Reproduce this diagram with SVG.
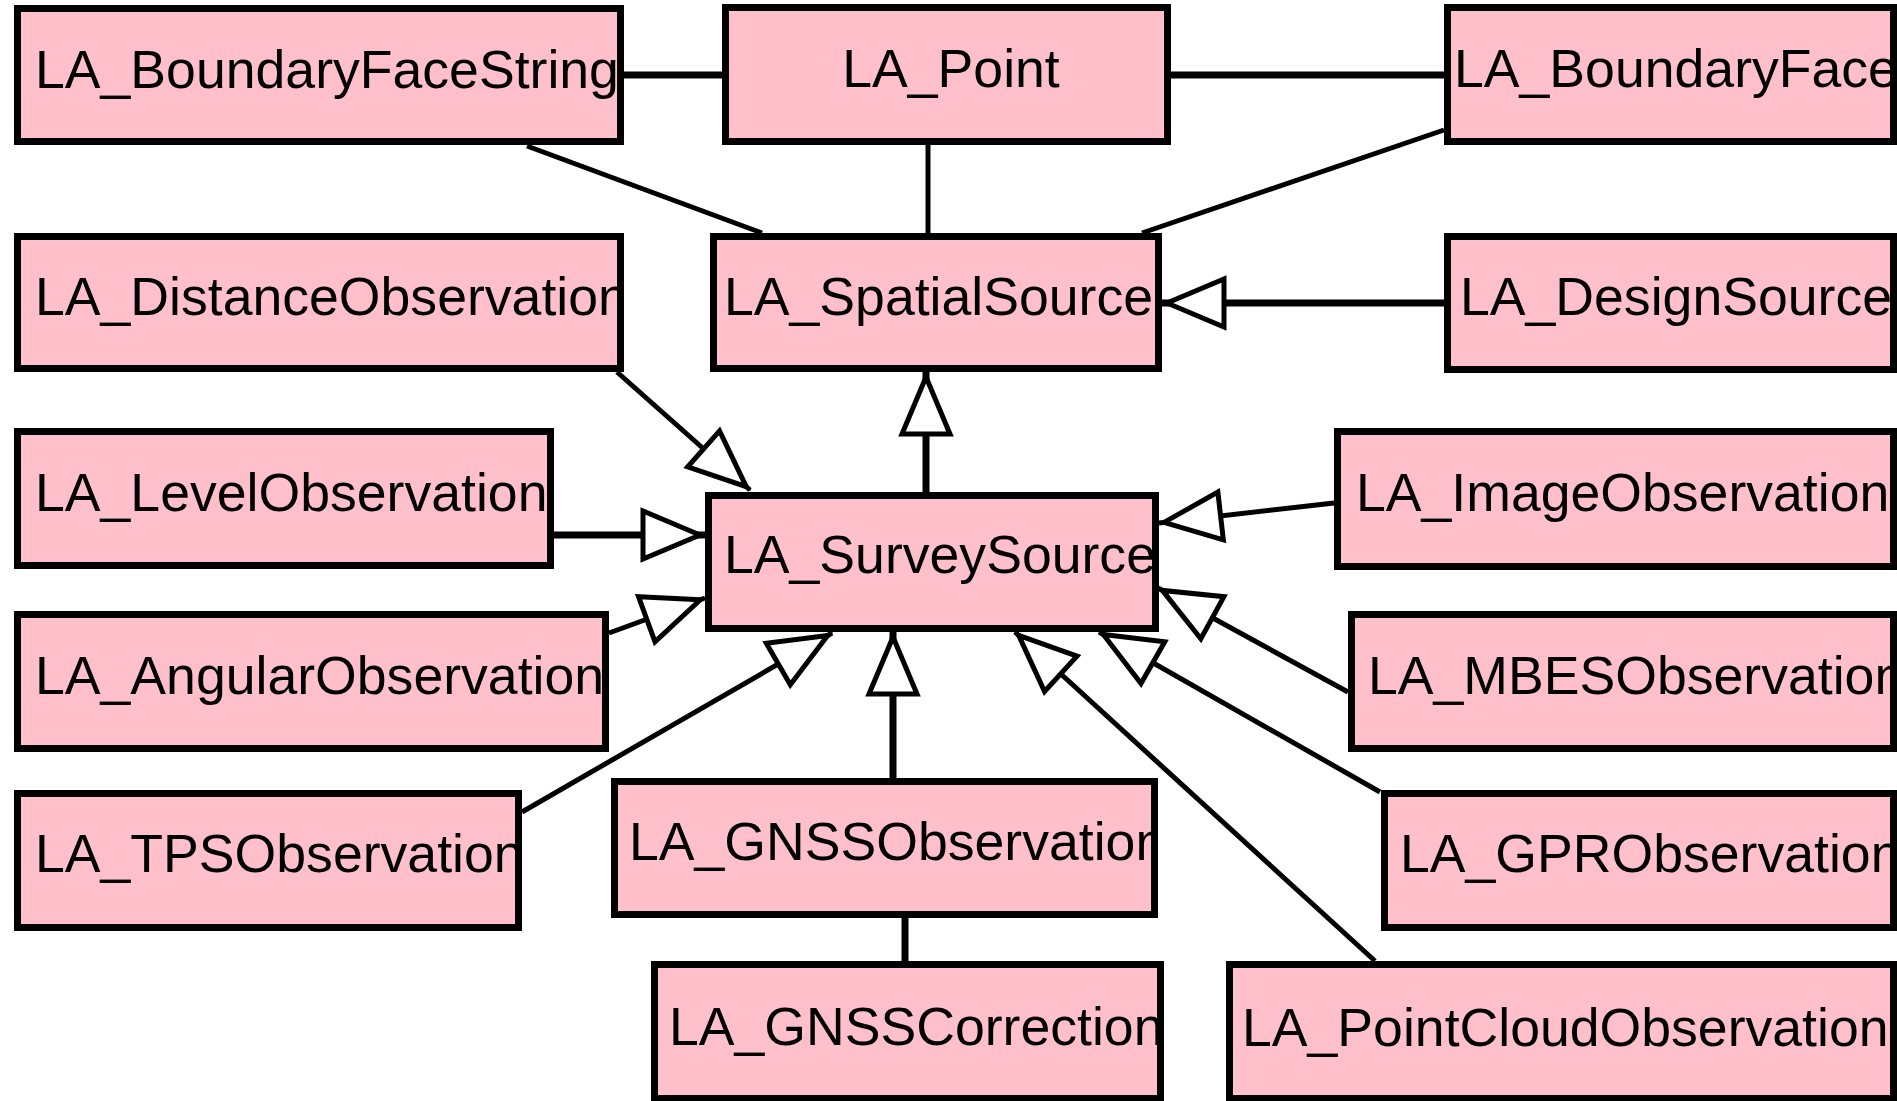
<svg xmlns="http://www.w3.org/2000/svg" width="1897" height="1101" viewBox="0 0 1897 1101">
<style>
.box{fill:#FFC0CB;stroke:#000;stroke-width:7}
.lbl{font-family:"Liberation Sans",Arial,sans-serif;font-size:53.6px;fill:#000}
.thick{stroke:#000;stroke-width:7;fill:none}
.thin{stroke:#000;stroke-width:5;fill:none}
.gen{marker-end:url(#tri)}
</style>
<defs>
<marker id="tri" viewBox="-70 -32 76 64" refX="0" refY="0" markerWidth="76" markerHeight="64" markerUnits="userSpaceOnUse" orient="auto">
<path d="M-5,0 L-62,-24 L-62,24 Z" fill="#fff" stroke="#000" stroke-width="5"/>
</marker>
<clipPath id="c1"><rect x="21" y="12" width="596" height="126"/></clipPath>
<clipPath id="c2"><rect x="729" y="11" width="435" height="127"/></clipPath>
<clipPath id="c3"><rect x="1451" y="11" width="439" height="127"/></clipPath>
<clipPath id="c4"><rect x="21" y="240" width="596" height="125"/></clipPath>
<clipPath id="c5"><rect x="717" y="240" width="438" height="125"/></clipPath>
<clipPath id="c6"><rect x="1451" y="240" width="439" height="126"/></clipPath>
<clipPath id="c7"><rect x="21" y="435" width="526" height="127"/></clipPath>
<clipPath id="c8"><rect x="712" y="499" width="440" height="126"/></clipPath>
<clipPath id="c9"><rect x="1341" y="435" width="549" height="128"/></clipPath>
<clipPath id="c10"><rect x="21" y="618" width="581" height="127"/></clipPath>
<clipPath id="c11"><rect x="1355" y="618" width="535" height="127"/></clipPath>
<clipPath id="c12"><rect x="21" y="797" width="494" height="127"/></clipPath>
<clipPath id="c13"><rect x="618" y="785" width="533" height="126"/></clipPath>
<clipPath id="c14"><rect x="1388" y="797" width="502" height="127"/></clipPath>
<clipPath id="c15"><rect x="658" y="968" width="499" height="127"/></clipPath>
<clipPath id="c16"><rect x="1233" y="968" width="657" height="127"/></clipPath>
</defs>

<g id="connectors">
<line class="thick" x1="624" y1="75" x2="722" y2="75"/>
<line class="thick" x1="1171" y1="75" x2="1444" y2="75"/>
<line class="thin" x1="928" y1="145" x2="928" y2="233"/>
<line class="thin" x1="527" y1="146" x2="762" y2="233"/>
<line class="thin" x1="1444" y1="130" x2="1142" y2="233"/>
<line class="thick gen" x1="1444" y1="303" x2="1162" y2="303"/>
<line class="thick gen" x1="926" y1="492" x2="926" y2="372"/>
<line class="thin gen" x1="617" y1="372" x2="750" y2="490"/>
<line class="thick gen" x1="554" y1="535" x2="705" y2="535"/>
<line class="thin gen" x1="609" y1="633" x2="705" y2="598"/>
<line class="thin gen" x1="522" y1="812" x2="832" y2="633"/>
<line class="thick gen" x1="893" y1="778" x2="893" y2="632"/>
<line class="thick" x1="905" y1="918" x2="905" y2="961"/>
<line class="thin gen" x1="1375" y1="961" x2="1015" y2="632"/>
<line class="thin gen" x1="1380" y1="792" x2="1099" y2="632"/>
<line class="thin gen" x1="1348" y1="692" x2="1158" y2="588"/>
<line class="thin gen" x1="1334" y1="503" x2="1159" y2="523"/>
</g>

<g id="LA_BoundaryFaceString"><rect class="box" x="17.5" y="8.5" width="603" height="133"/><text class="lbl" clip-path="url(#c1)" x="35" y="88">LA_BoundaryFaceString</text></g>
<g id="LA_Point"><rect class="box" x="725.5" y="7.5" width="442" height="134"/><text class="lbl" clip-path="url(#c2)" x="951" y="87" text-anchor="middle">LA_Point</text></g>
<g id="LA_BoundaryFace"><rect class="box" x="1447.5" y="7.5" width="446" height="134"/><text class="lbl" clip-path="url(#c3)" x="1454" y="87">LA_BoundaryFace</text></g>
<g id="LA_DistanceObservation"><rect class="box" x="17.5" y="236.5" width="603" height="132"/><text class="lbl" clip-path="url(#c4)" x="35" y="315">LA_DistanceObservation</text></g>
<g id="LA_SpatialSource"><rect class="box" x="713.5" y="236.5" width="445" height="132"/><text class="lbl" clip-path="url(#c5)" x="724" y="315">LA_SpatialSource</text></g>
<g id="LA_DesignSource"><rect class="box" x="1447.5" y="236.5" width="446" height="133"/><text class="lbl" clip-path="url(#c6)" x="1460" y="315">LA_DesignSource</text></g>
<g id="LA_LevelObservation"><rect class="box" x="17.5" y="431.5" width="533" height="134"/><text class="lbl" clip-path="url(#c7)" x="35" y="511">LA_LevelObservation</text></g>
<g id="LA_SurveySource"><rect class="box" x="708.5" y="495.5" width="447" height="133"/><text class="lbl" clip-path="url(#c8)" x="724" y="573">LA_SurveySource</text></g>
<g id="LA_ImageObservation"><rect class="box" x="1337.5" y="431.5" width="556" height="135"/><text class="lbl" clip-path="url(#c9)" x="1356" y="511">LA_ImageObservation</text></g>
<g id="LA_AngularObservation"><rect class="box" x="17.5" y="614.5" width="588" height="134"/><text class="lbl" clip-path="url(#c10)" x="35" y="694">LA_AngularObservation</text></g>
<g id="LA_MBESObservation"><rect class="box" x="1351.5" y="614.5" width="542" height="134"/><text class="lbl" clip-path="url(#c11)" x="1368" y="694">LA_MBESObservation</text></g>
<g id="LA_TPSObservation"><rect class="box" x="17.5" y="793.5" width="501" height="134"/><text class="lbl" clip-path="url(#c12)" x="35" y="872">LA_TPSObservation</text></g>
<g id="LA_GNSSObservation"><rect class="box" x="614.5" y="781.5" width="540" height="133"/><text class="lbl" clip-path="url(#c13)" x="629" y="860">LA_GNSSObservation</text></g>
<g id="LA_GPRObservation"><rect class="box" x="1384.5" y="793.5" width="509" height="134"/><text class="lbl" clip-path="url(#c14)" x="1400" y="872">LA_GPRObservation</text></g>
<g id="LA_GNSSCorrection"><rect class="box" x="654.5" y="964.5" width="506" height="134"/><text class="lbl" clip-path="url(#c15)" x="669" y="1045">LA_GNSSCorrection</text></g>
<g id="LA_PointCloudObservation"><rect class="box" x="1229.5" y="964.5" width="664" height="134"/><text class="lbl" clip-path="url(#c16)" x="1242" y="1046">LA_PointCloudObservation</text></g>
</svg>
